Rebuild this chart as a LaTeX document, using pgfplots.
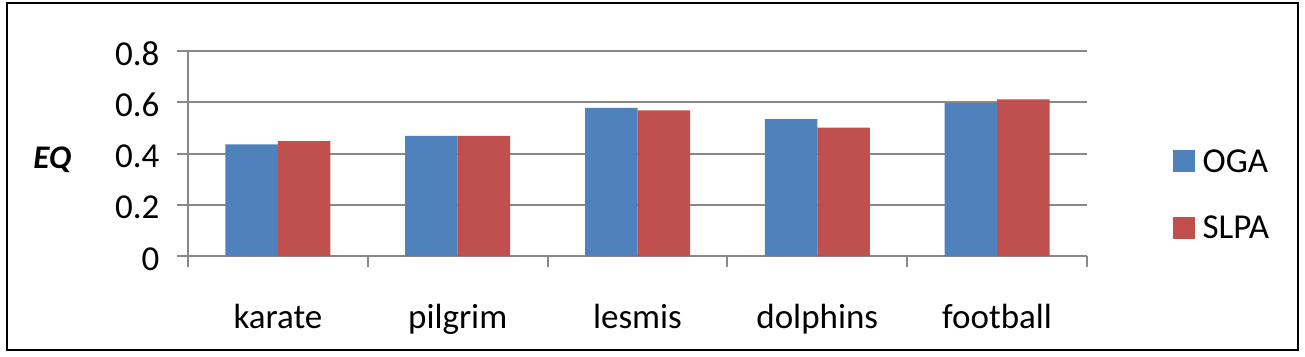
\documentclass[border=0pt]{standalone}
\usepackage{pgfplots}
\pgfplotsset{compat=1.18}
\usepackage{fontspec}
\setmainfont{Carlito}
\definecolor{ogablue}{HTML}{4F81BD}
\definecolor{slpared}{HTML}{C0504D}
\definecolor{gridgray}{HTML}{888888}
\begin{document}
\begin{tikzpicture}
\useasboundingbox (0pt,0pt) rectangle (1305pt,356pt);
\draw[line width=1.6pt, black] (7pt,6pt) rectangle (1298pt,353pt);
\begin{axis}[
  at={(188pt,100pt)}, anchor=south west,
  scale only axis, width=899pt, height=205pt,
  xmin=-0.5, xmax=4.5, ymin=0, ymax=0.8,
  ybar=0pt, bar width=0.292,
  axis x line*=bottom, axis y line*=left,
  axis line style={draw=gridgray, line width=2pt},
  ytick={0,0.2,0.4,0.6,0.8},
  yticklabels={0,0.2,0.4,0.6,0.8},
  xtick={-0.5,0.5,1.5,2.5,3.5,4.5},
  xticklabels={karate,pilgrim,lesmis,dolphins,football},
  x tick label as interval,
  tick align=outside, major tick length=11pt,
  tick style={draw=gridgray, line width=2pt},
  ymajorgrids, grid style={draw=gridgray, line width=2pt},
  ticklabel style={font=\fontsize{35}{40}\selectfont},
  xticklabel style={yshift=-34pt},
  yticklabel style={xshift=-14pt, yshift=-3pt},
  ylabel={\textbf{\textit{EQ}}},
  ylabel style={font=\fontsize{33}{38}\selectfont, rotate=-90, at={(axis description cs:-0.151,0.47)}, anchor=center},
  legend style={at={(axis description cs:1.095,0.3)}, anchor=west, draw=none, fill=none,
    font=\fontsize{35}{40}\selectfont, row sep=38pt, inner sep=0pt,
    /tikz/every odd column/.append style={column sep=6pt}},
  legend cell align=left,
]
\addplot[fill=ogablue, draw=none, legend image code/.code={\fill[ogablue] (0pt,-11pt) rectangle (22pt,11pt);}]
  coordinates {(0,0.436) (1,0.469) (2,0.578) (3,0.534) (4,0.597)};
\addplot[fill=slpared, draw=none, legend image code/.code={\fill[slpared] (0pt,-11pt) rectangle (22pt,11pt);}]
  coordinates {(0,0.448) (1,0.469) (2,0.568) (3,0.501) (4,0.611)};
\legend{OGA,SLPA}
\end{axis}
\end{tikzpicture}
\end{document}
